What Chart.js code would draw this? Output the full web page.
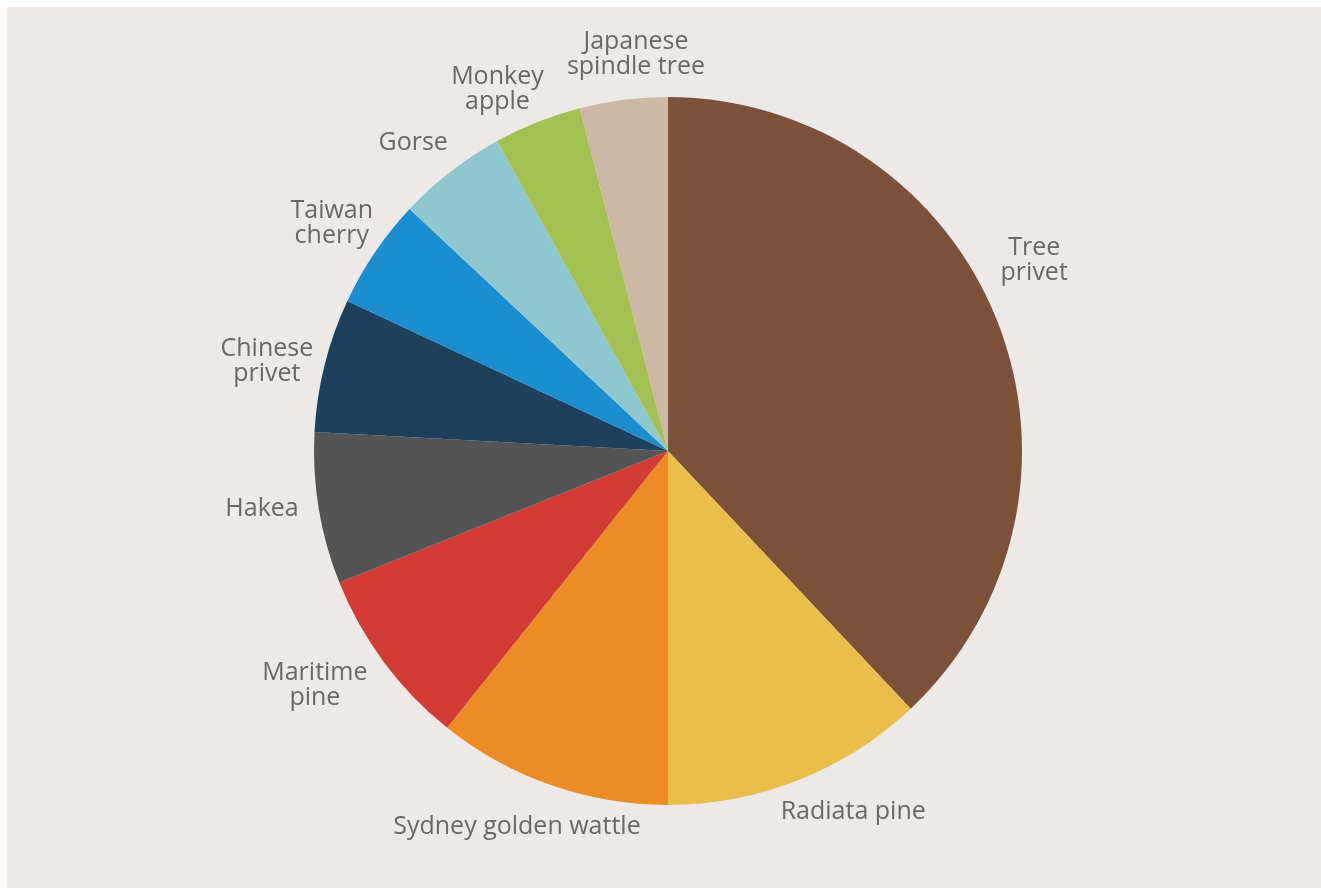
<!DOCTYPE html>
<html>
<head>
<meta charset="utf-8">
<script src="https://cdn.jsdelivr.net/npm/chart.js@4/dist/chart.umd.min.js"></script>
<style>
  html, body { margin: 0; padding: 0; background: #ffffff; width: 1321px; height: 888px; overflow: hidden; }
  #wrap { position: absolute; left: 7px; top: 7px; width: 1314px; height: 881px; background: #ede9e6; }
  canvas { display: block; }
</style>
</head>
<body>
<div id="wrap"><canvas id="c" width="1314" height="881"></canvas></div>
<script>
// Data
const categories = ["Tree privet", "Radiata pine", "Sydney golden wattle", "Maritime pine", "Hakea",
                    "Chinese privet", "Taiwan cherry", "Gorse", "Monkey apple", "Japanese spindle tree"];
const labelLines = [["Tree", "privet"], ["Radiata pine"], ["Sydney golden wattle"], ["Maritime", "pine"], ["Hakea"],
                    ["Chinese", "privet"], ["Taiwan", "cherry"], ["Gorse"], ["Monkey", "apple"], ["Japanese", "spindle tree"]];
const shares = [37.9, 12.0, 10.7, 8.2, 6.9, 6.1, 5.0, 5.0, 4.0, 4.0];
const sliceColors = ["#7b5139", "#e9be4b", "#ec8c24", "#d23c35", "#545455",
                     "#1d405c", "#1b8ecf", "#8fc7cf", "#a2c152", "#cdb8a5"];

// label placement tweaks: [angle offset in degrees, extra radius in px]
const labelNudge = [[-5.9, 7], [-5.5, 0], [2.6, -1], [3, 18], [1.3, 4],
                    [-1.5, 5], [0, 0], [-1.7, -6], [-3.6, -6], [2.6, -8]];

const outsideLabels = {
  id: 'outsideLabels',
  afterDatasetsDraw(chart) {
    const ctx = chart.ctx;
    const meta = chart.getDatasetMeta(0);
    ctx.save();
    ctx.font = '25px "Open Sans", sans-serif';
    ctx.fillStyle = '#686868';
    ctx.textAlign = 'center';
    ctx.textBaseline = 'middle';
    const lh = 25;
    meta.data.forEach((arc, i) => {
      const p = arc.getProps(['x', 'y', 'startAngle', 'endAngle', 'outerRadius'], true);
      const mid = (p.startAngle + p.endAngle) / 2 + labelNudge[i][0] * Math.PI / 180;
      const d = p.outerRadius + 52 + labelNudge[i][1];
      const cx = p.x + Math.cos(mid) * d;
      const cy = p.y + Math.sin(mid) * d;
      const lines = labelLines[i];
      const y0 = cy - (lines.length - 1) * lh / 2;
      lines.forEach((t, k) => ctx.fillText(t, cx, y0 + k * lh));
    });
    ctx.restore();
  }
};

new Chart(document.getElementById('c'), {
  type: 'pie',
  data: {
    labels: categories,
    datasets: [{
      data: shares,
      backgroundColor: sliceColors,
      borderWidth: 0
    }]
  },
  options: {
    responsive: false,
    animation: false,
    layout: { padding: { top: 90, bottom: 83, left: 8, right: 0 } },
    plugins: {
      legend: { display: false },
      tooltip: { enabled: false }
    }
  },
  plugins: [outsideLabels]
});
</script>
</body>
</html>
